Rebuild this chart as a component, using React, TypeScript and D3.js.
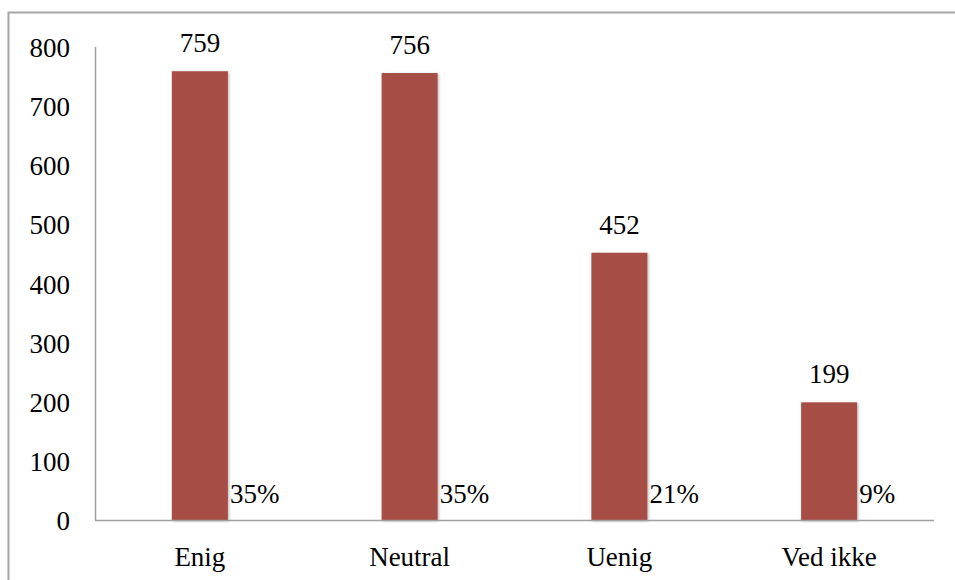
import React, { useRef, useEffect } from 'react';
import * as d3 from 'd3';

// chart data
const categories = ['Enig', 'Neutral', 'Uenig', 'Ved ikke'];
const counts = [759, 756, 452, 199];
const shares = ['35%', '35%', '21%', '9%'];
const yTicks = [0, 100, 200, 300, 400, 500, 600, 700, 800];

const W = 955;
const H = 580;
const FONT = '"Liberation Serif", serif';

const Chart = () => {
    const ref = useRef<SVGSVGElement>(null);

    useEffect(() => {
        const svg = d3.select(ref.current);
        svg.selectAll('*').remove();

        const left = 95, right = 934, top = 47, bottom = 520;

        const x = d3.scaleBand<string>()
            .domain(categories)
            .range([left, right])
            .paddingInner(0.733)
            .paddingOuter(0.3665);
        const y = d3.scaleLinear().domain([0, 800]).range([bottom, top]);

        // outer frame (only top/left visible in the crop)
        svg.append('path')
            .attr('d', `M8.5,${H + 5} L8.5,12.5 L${W + 5},12.5`)
            .attr('fill', 'none')
            .attr('stroke', '#a6a6a6')
            .attr('stroke-width', 2);

        // shadow filter for bars
        const defs = svg.append('defs');
        const f = defs.append('filter').attr('id', 'sh').attr('x', '-20%').attr('y', '-20%').attr('width', '140%').attr('height', '140%');
        f.append('feDropShadow').attr('dx', 1).attr('dy', 1).attr('stdDeviation', 1.5).attr('flood-color', '#000').attr('flood-opacity', 0.3);

        // bars
        svg.append('g').selectAll('rect')
            .data(counts)
            .enter()
            .append('rect')
            .attr('x', (d, i) => x(categories[i])!)
            .attr('y', d => y(d))
            .attr('width', x.bandwidth())
            .attr('height', d => bottom - y(d))
            .attr('fill', '#a64d45')
            .attr('filter', 'url(#sh)');

        // axes lines
        svg.append('line')
            .attr('x1', left + 0.5).attr('x2', left + 0.5)
            .attr('y1', top).attr('y2', bottom)
            .attr('stroke', '#a0a0a0').attr('stroke-width', 1.5);
        svg.append('line')
            .attr('x1', left).attr('x2', right)
            .attr('y1', bottom + 0.5).attr('y2', bottom + 0.5)
            .attr('stroke', '#a0a0a0').attr('stroke-width', 1.5);

        // y tick labels
        svg.append('g').selectAll('text')
            .data(yTicks)
            .enter()
            .append('text')
            .attr('x', 70)
            .attr('y', d => y(d) + 10)
            .attr('text-anchor', 'end')
            .attr('font-family', FONT)
            .attr('font-size', 27)
            .attr('fill', '#000')
            .text(d => d);

        // value labels on top
        svg.append('g').selectAll('text')
            .data(counts)
            .enter()
            .append('text')
            .attr('x', (d, i) => x(categories[i])! + x.bandwidth() / 2)
            .attr('y', d => y(d) - 19)
            .attr('text-anchor', 'middle')
            .attr('font-family', FONT)
            .attr('font-size', 27)
            .text(d => d);

        // percentage labels
        svg.append('g').selectAll('text')
            .data(shares)
            .enter()
            .append('text')
            .attr('x', (d, i) => x(categories[i])! + x.bandwidth() + 2)
            .attr('y', bottom - 17)
            .attr('font-family', FONT)
            .attr('font-size', 27)
            .text(d => d);

        // category labels
        svg.append('g').selectAll('text')
            .data(categories)
            .enter()
            .append('text')
            .attr('x', d => x(d)! + x.bandwidth() / 2)
            .attr('y', 566)
            .attr('text-anchor', 'middle')
            .attr('font-family', FONT)
            .attr('font-size', 27)
            .text(d => d);
    }, []);

    return (
        <svg ref={ref} width={W} height={H}
            style={{ position: 'absolute', left: 0, top: 0, background: '#fff' }} />
    );
};

const App = () => <Chart />;

export default App;
